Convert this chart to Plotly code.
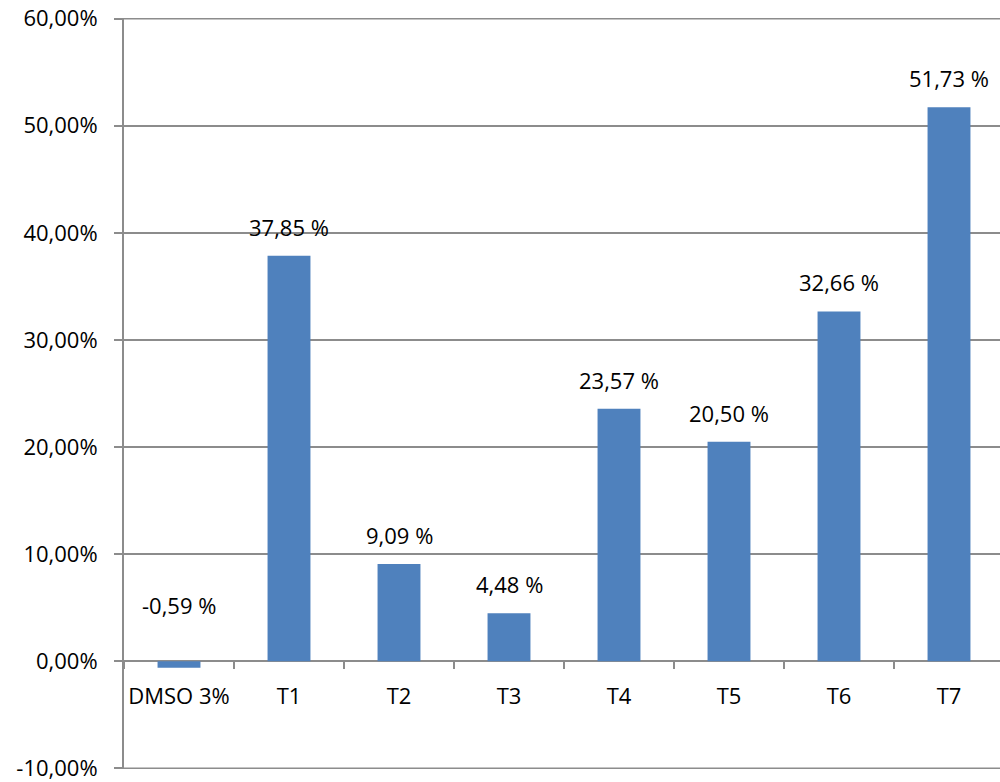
import plotly.graph_objects as go

categories = ["DMSO 3%", "T1", "T2", "T3", "T4", "T5", "T6", "T7"]
values = [-0.59, 37.85, 9.09, 4.48, 23.57, 20.50, 32.66, 51.73]
labels = ["-0,59 %", "37,85 %", "9,09 %", "4,48 %", "23,57 %", "20,50 %", "32,66 %", "51,73 %"]
y_ticks = [-10, 0, 10, 20, 30, 40, 50, 60]
y_tick_text = ["-10,00%", "0,00%", "10,00%", "20,00%", "30,00%", "40,00%", "50,00%", "60,00%"]

FONT = "Open Sans"
GRID = "#8c8c8c"
FS = 22

fig = go.Figure()
fig.add_trace(go.Bar(
    x=categories, y=values, width=0.39,
    marker=dict(color="#4F81BD", line=dict(width=0)),
    hoverinfo="skip",
))

for c, v, t in zip(categories, values, labels):
    fig.add_annotation(
        x=c, y=max(v, 0), text=t, showarrow=False,
        yanchor="bottom", yshift=12 if v >= 0 else 39,
        font=dict(family=FONT, size=FS, color="#000000"),
    )

# end gridlines (plotly omits the ones on the plot-area edges)
for yv in (y_ticks[0], y_ticks[-1]):
    fig.add_shape(type="line", xref="paper", x0=0, x1=1, yref="y", y0=yv, y1=yv,
                  line=dict(color=GRID, width=2), layer="below")

fig.update_layout(
    width=1000, height=782,
    margin=dict(l=124, r=0, t=18, b=8),
    paper_bgcolor="white", plot_bgcolor="white",
    showlegend=False,
    font=dict(family=FONT, size=FS, color="#000000"),
    xaxis=dict(
        type="category",
        range=[-0.5, 7.4636],
        anchor="free", position=10.05 / 70.1,
        showline=False,
        ticks="outside", tickson="boundaries", ticklen=7, tickcolor=GRID, tickwidth=2,
        showgrid=False, zeroline=False,
        tickangle=0,
        ticklabelstandoff=20,
        tickfont=dict(family=FONT, size=FS),
    ),
    yaxis=dict(
        range=[-10.05, 60.05],
        tickvals=y_ticks, ticktext=y_tick_text,
        showline=True, linecolor=GRID, linewidth=2,
        ticks="outside", ticklen=8, tickcolor=GRID, tickwidth=2,
        showgrid=True, gridcolor=GRID, gridwidth=2,
        zeroline=True, zerolinecolor=GRID, zerolinewidth=2,
        ticklabelstandoff=12,
        ticklabeloverflow="allow",
        tickfont=dict(family=FONT, size=FS),
    ),
)

fig.write_html("out.html")
